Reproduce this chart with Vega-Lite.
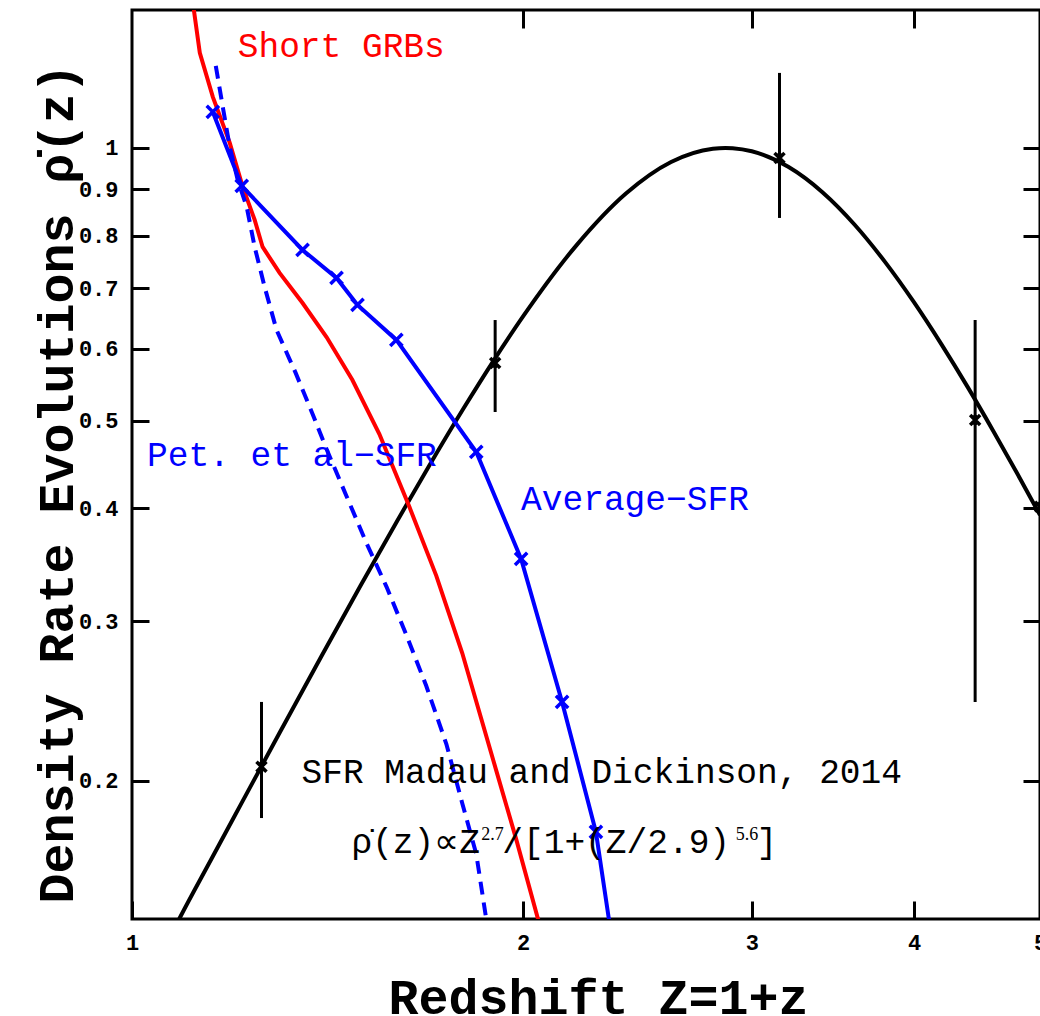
{
  "$schema": "https://vega.github.io/schema/vega-lite/v6.json",
  "width": 908,
  "height": 909,
  "autosize": {"type": "none"},
  "padding": {"left": 132, "top": 10, "right": 0, "bottom": 97},
  "background": "white",
  "config": {
    "view": {"stroke": "black", "strokeWidth": 3},
    "font": "Liberation Mono",
    "axis": {"grid": false, "domain": false, "tickColor": "black", "tickWidth": 3, "labelColor": "black", "titleColor": "black"}
  },
  "datasets": {
    "madau_curve": [
      {"Z": 1.085, "rho": 0.1400}, {"Z": 1.09, "rho": 0.1418}, {"Z": 1.15, "rho": 0.1636},
      {"Z": 1.2, "rho": 0.1832}, {"Z": 1.3, "rho": 0.2265}, {"Z": 1.4, "rho": 0.2751},
      {"Z": 1.5, "rho": 0.3289}, {"Z": 1.6, "rho": 0.3874}, {"Z": 1.7, "rho": 0.4500},
      {"Z": 1.8, "rho": 0.5158}, {"Z": 1.9, "rho": 0.5835}, {"Z": 2.0, "rho": 0.6516},
      {"Z": 2.2, "rho": 0.7816}, {"Z": 2.4, "rho": 0.8905}, {"Z": 2.6, "rho": 0.9649},
      {"Z": 2.8, "rho": 0.9980}, {"Z": 2.863, "rho": 1.0}, {"Z": 2.9, "rho": 0.9993},
      {"Z": 3.0, "rho": 0.9915}, {"Z": 3.2, "rho": 0.9531}, {"Z": 3.4, "rho": 0.8935},
      {"Z": 3.6, "rho": 0.8226}, {"Z": 3.8, "rho": 0.7480}, {"Z": 4.0, "rho": 0.6751},
      {"Z": 4.2, "rho": 0.6065}, {"Z": 4.4, "rho": 0.5440}, {"Z": 4.6, "rho": 0.4876},
      {"Z": 4.8, "rho": 0.4375}, {"Z": 5.0, "rho": 0.3932}
    ],
    "madau_points": [
      {"Z": 1.258, "rho": 0.2073, "lo": 0.1820, "hi": 0.2445},
      {"Z": 1.9035, "rho": 0.5788, "lo": 0.5110, "hi": 0.6456},
      {"Z": 3.151, "rho": 0.9749, "lo": 0.8369, "hi": 1.2101},
      {"Z": 4.457, "rho": 0.5006, "lo": 0.2445, "hi": 0.6456},
      {"Z": 5.0, "rho": 0.4015}
    ],
    "short_grb": [
      {"Z": 1.1119, "rho": 1.4756}, {"Z": 1.1159, "rho": 1.42}, {"Z": 1.1277, "rho": 1.2733},
      {"Z": 1.1540, "rho": 1.1385}, {"Z": 1.1892, "rho": 1.0128}, {"Z": 1.2168, "rho": 0.9056},
      {"Z": 1.2429, "rho": 0.8328}, {"Z": 1.2605, "rho": 0.7774}, {"Z": 1.2990, "rho": 0.7277},
      {"Z": 1.3530, "rho": 0.6742}, {"Z": 1.4117, "rho": 0.6183}, {"Z": 1.4780, "rho": 0.5543},
      {"Z": 1.5503, "rho": 0.4831}, {"Z": 1.6350, "rho": 0.4015}, {"Z": 1.7150, "rho": 0.3369},
      {"Z": 1.7956, "rho": 0.2769}, {"Z": 1.9068, "rho": 0.2056}, {"Z": 1.9755, "rho": 0.1726},
      {"Z": 2.0537, "rho": 0.1408}, {"Z": 2.07, "rho": 0.1379}
    ],
    "pet_sfr": [
      {"Z": 1.1601, "rho": 1.2319}, {"Z": 1.1746, "rho": 1.1099}, {"Z": 1.1892, "rho": 1.0025},
      {"Z": 1.2061, "rho": 0.9219}, {"Z": 1.2255, "rho": 0.8606}, {"Z": 1.2429, "rho": 0.7774},
      {"Z": 1.2650, "rho": 0.7023}, {"Z": 1.2921, "rho": 0.6294}, {"Z": 1.3365, "rho": 0.5644},
      {"Z": 1.3772, "rho": 0.5085}, {"Z": 1.4117, "rho": 0.4651}, {"Z": 1.4624, "rho": 0.4128},
      {"Z": 1.5151, "rho": 0.3663}, {"Z": 1.5702, "rho": 0.3276}, {"Z": 1.6263, "rho": 0.2899},
      {"Z": 1.6848, "rho": 0.2546}, {"Z": 1.7458, "rho": 0.2197}, {"Z": 1.7956, "rho": 0.1890},
      {"Z": 1.8408, "rho": 0.1661}, {"Z": 1.8736, "rho": 0.1408}, {"Z": 1.88, "rho": 0.137}
    ],
    "avg_sfr": [
      {"Z": 1.1540, "rho": 1.0959, "m": 1}, {"Z": 1.2147, "rho": 0.9080, "m": 1},
      {"Z": 1.3530, "rho": 0.7715, "m": 1}, {"Z": 1.4370, "rho": 0.7185, "m": 1},
      {"Z": 1.4914, "rho": 0.6708, "m": 1}, {"Z": 1.5977, "rho": 0.6137, "m": 1},
      {"Z": 1.8408, "rho": 0.4616, "m": 1}, {"Z": 1.9931, "rho": 0.3517, "m": 1},
      {"Z": 2.1432, "rho": 0.2445, "m": 1}, {"Z": 2.2757, "rho": 0.1757, "m": 1},
      {"Z": 2.3286, "rho": 0.1408, "m": 0}, {"Z": 2.34, "rho": 0.137, "m": 0}
    ],
    "labels": [
      {"label": "Short GRBs", "series": "grb", "Z": 1.2061, "rho": 1.2604},
      {"label": "Pet. et al−SFR", "series": "pet", "Z": 1.0269, "rho": 0.4455},
      {"label": "Average−SFR", "series": "avg", "Z": 1.9931, "rho": 0.3983},
      {"label": "SFR Madau and Dickinson, 2014", "series": "md", "Z": 1.3506, "rho": 0.1990},
      {"label": "ρ̇(z)∝Z", "series": "md", "Z": 1.4755, "rho": 0.16647},
      {"label": "/[1+(Z/2.9)", "series": "md", "Z": 1.9278, "rho": 0.16647},
      {"label": "]", "series": "md", "Z": 3.0257, "rho": 0.16647}
    ],
    "exponents": [
      {"label": "2.7", "Z": 1.8571, "rho": 0.17207},
      {"label": "5.6", "Z": 2.9154, "rho": 0.17207}
    ]
  },
  "encoding": {
    "x": {"field": "Z", "type": "quantitative", "scale": {"type": "log", "domain": [1, 5], "nice": false}, "axis": null},
    "y": {"field": "rho", "type": "quantitative", "scale": {"type": "log", "domain": [0.1408, 1.42], "nice": false}, "axis": null}
  },
  "layer": [
    {
      "data": {"name": "madau_curve"},
      "mark": {"type": "line", "color": "black", "strokeWidth": 4, "interpolate": "monotone", "clip": true},
      "encoding": {
        "x": {
          "field": "Z", "type": "quantitative",
          "scale": {"type": "log", "domain": [1, 5], "nice": false},
          "axis": {
            "orient": "bottom", "values": [1, 2, 3, 4, 5], "format": "~g",
            "tickSize": -18, "labelPadding": 31, "labelFlush": false,
            "labelFont": "Liberation Mono", "labelFontWeight": "bold", "labelFontSize": 22,
            "title": "Redshift Z=1+z", "titleFont": "Liberation Mono", "titleFontWeight": "bold",
            "titleFontSize": 50, "titleX": 466, "titleY": 94, "titleBaseline": "alphabetic"
          }
        },
        "y": {
          "field": "rho", "type": "quantitative",
          "scale": {"type": "log", "domain": [0.1408, 1.42], "nice": false},
          "axis": {
            "orient": "left", "values": [0.2, 0.3, 0.4, 0.5, 0.6, 0.7, 0.8, 0.9, 1], "format": "~g",
            "tickSize": -17, "labelPadding": 31, "labelFlush": false,
            "labelFont": "Liberation Mono", "labelFontWeight": "bold", "labelFontSize": 22,
            "title": "Density Rate Evolutions ρ̇(z)", "titleFont": "Liberation Mono", "titleFontWeight": "bold",
            "titleFontSize": 50, "titleX": -60, "titleY": 473, "titleAngle": 270, "titleBaseline": "alphabetic"
          }
        }
      }
    },
    {
      "data": {"name": "madau_points"},
      "transform": [{"filter": "isValid(datum.lo)"}],
      "mark": {"type": "rule", "color": "black", "strokeWidth": 3, "clip": true},
      "encoding": {
        "y": {"field": "lo", "type": "quantitative", "scale": {"type": "log", "domain": [0.1408, 1.42], "nice": false}, "axis": null},
        "y2": {"field": "hi"}
      }
    },
    {
      "data": {"name": "madau_points"},
      "mark": {"type": "point", "shape": "M-1,-1L1,1M-1,1L1,-1M0,-1L0,1", "filled": false, "color": "black", "strokeWidth": 3.5, "size": 100, "opacity": 1, "clip": true}
    },
    {
      "data": {"name": "short_grb"},
      "mark": {"type": "line", "color": "#ff0000", "strokeWidth": 4, "clip": true}
    },
    {
      "data": {"name": "pet_sfr"},
      "mark": {"type": "line", "color": "#0000ff", "strokeWidth": 4, "strokeDash": [13, 8], "clip": true}
    },
    {
      "data": {"name": "avg_sfr"},
      "mark": {"type": "line", "color": "#0000ff", "strokeWidth": 4, "clip": true}
    },
    {
      "data": {"name": "avg_sfr"},
      "transform": [{"filter": "datum.m == 1"}],
      "mark": {"type": "point", "shape": "M-1,-1L1,1M-1,1L1,-1", "filled": false, "color": "#0000ff", "strokeWidth": 3.5, "size": 150, "opacity": 1, "clip": true},
      "encoding": {
        "x": {
          "field": "Z", "type": "quantitative",
          "scale": {"type": "log", "domain": [1, 5], "nice": false},
          "axis": {"orient": "top", "values": [2, 3, 4, 5], "tickSize": -18, "labels": false, "title": null}
        },
        "y": {
          "field": "rho", "type": "quantitative",
          "scale": {"type": "log", "domain": [0.1408, 1.42], "nice": false},
          "axis": {"orient": "right", "values": [0.2, 0.3, 0.4, 0.5, 0.6, 0.7, 0.8, 0.9, 1], "tickSize": -17, "labels": false, "title": null}
        }
      }
    },
    {
      "data": {"name": "labels"},
      "mark": {"type": "text", "font": "Liberation Mono", "fontSize": 34.5, "align": "left", "baseline": "alphabetic"},
      "encoding": {
        "text": {"field": "label"},
        "color": {
          "field": "series", "type": "nominal", "legend": null,
          "scale": {"domain": ["grb", "pet", "avg", "md"], "range": ["#ff0000", "#0000ff", "#0000ff", "#000000"]}
        }
      }
    },
    {
      "data": {"name": "exponents"},
      "mark": {"type": "text", "font": "Liberation Serif", "fontSize": 18, "align": "left", "baseline": "alphabetic", "color": "black"},
      "encoding": {"text": {"field": "label"}}
    }
  ],
  "resolve": {"axis": {"x": "independent", "y": "independent"}}
}
